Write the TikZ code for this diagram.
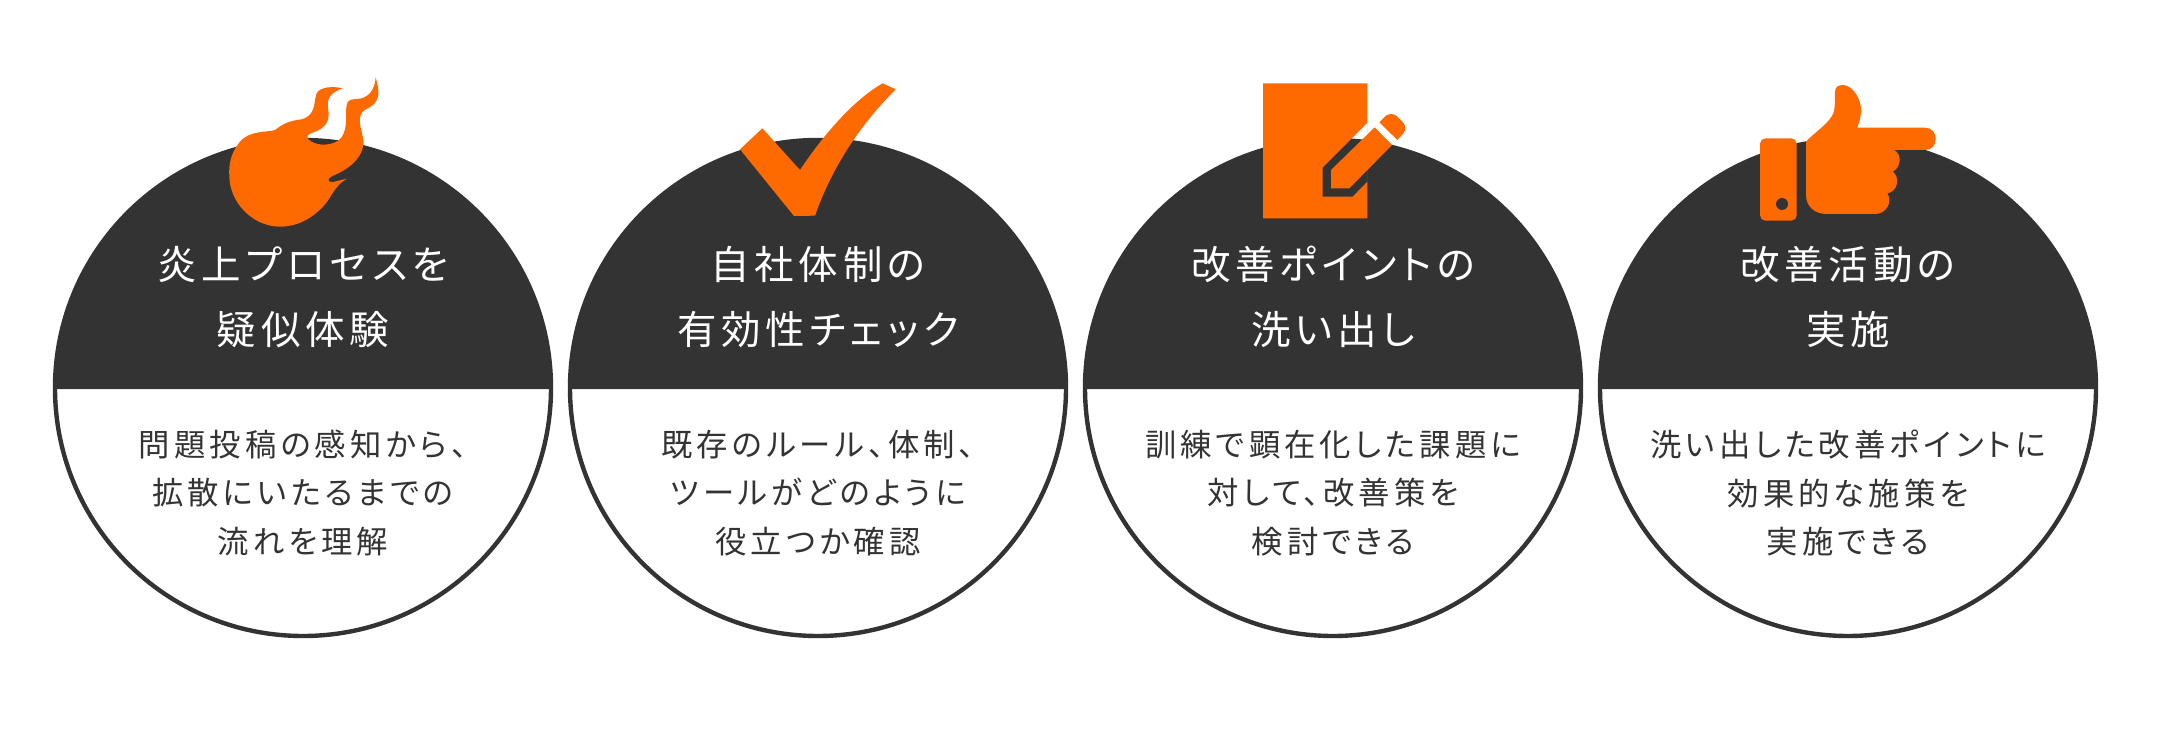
\documentclass[tikz,border=0pt]{standalone}
\usepackage{fontspec}
\newfontfamily\headcjk[LetterSpace=12,RawFeature=+palt]{Noto Sans CJK JP}
\newfontfamily\bodycjk[LetterSpace=13,RawFeature=+palt]{Noto Sans CJK JP}
\definecolor{ringdark}{RGB}{51,51,51}
\definecolor{iconorange}{RGB}{255,106,0}
\tikzset{
  ringline/.style={draw=ringdark,line width=3.3pt,fill=white},
  capfill/.style={fill=ringdark},
  iconfill/.style={fill=iconorange,draw=none},
  headtext/.style={text=white,align=center,inner sep=0.75pt,font=\headcjk\fontsize{29.6}{48.5}\selectfont},
  bodytext/.style={text=ringdark,align=center,inner sep=0.75pt,font=\bodycjk\fontsize{23.5}{36.4}\selectfont}
}

\begin{document}
\begin{tikzpicture}[x=0.75pt,y=0.75pt,yscale=-1,xscale=1]
\useasboundingbox (0,0) rectangle (2160,738);

%Shape: Circle
\foreach \cx in {303,818,1333,1848} {
  \draw [ringline] (\cx,388) circle (248);
  \fill [capfill] (\cx-248,389) arc [start angle=180,end angle=360,radius=248] -- cycle;
}

%Shape: Flame
\begin{scope}[shift={(200,60)},scale=1/3]
\fill [iconfill] (428,85) .. controls (400,78) and (360,80) .. (350,100) .. controls (340,125) and (350,165) .. (305,178) .. controls (270,182) and (250,190) .. (225,210) .. controls (200,218) and (150,210) .. (120,245) .. controls (95,275) and (85,310) .. (88,350) .. controls (90,430) and (160,500) .. (240,500) .. controls (310,500) and (360,455) .. (385,420) .. controls (400,395) and (415,370) .. (440,357) .. controls (420,358) and (400,370) .. (388,365) .. controls (378,358) and (395,348) .. (410,342) .. controls (460,320) and (495,280) .. (490,240) .. controls (485,210) and (475,190) .. (482,165) .. controls (490,140) and (525,150) .. (535,105) .. controls (538,90) and (530,65) .. (527,52) .. controls (525,85) and (510,110) .. (480,116) .. controls (455,118) and (442,118) .. (440,135) .. controls (435,165) and (445,200) .. (425,232) .. controls (405,258) and (350,262) .. (325,238) .. controls (318,228) and (325,222) .. (340,217) .. controls (375,205) and (390,185) .. (385,150) .. controls (380,120) and (385,100) .. (428,85) -- cycle ;
\end{scope}

%Shape: Check mark
\begin{scope}[shift={(720,60)},scale=1/3]
\fill [iconfill] (60,268) -- (127,205) -- (240,330) .. controls (310,225) and (400,120) .. (488,70) -- (527,88) .. controls (430,185) and (340,310) .. (285,467) -- (222,468) -- cycle ;
\end{scope}

%Shape: Sheet and pencil
\begin{scope}[shift={(1240,70)},scale=1/3]
\fill [iconfill,even odd rule] (69,40) rectangle (382,445) (248,292) -- (382,158) -- (382,335) -- (338,380) -- (248,380) -- cycle ;
\fill [iconfill] (273,300) -- (404,172) -- (456,225) -- (328,355) -- (273,355) -- cycle ;
\fill [iconfill] (418,157) -- (438,137) .. controls (448,130) and (462,130) .. (472,140) -- (488,156) .. controls (498,166) and (498,180) .. (490,190) -- (472,210) -- cycle ;
\end{scope}

%Shape: Pointing hand
\begin{scope}[shift={(1740,70)},scale=1/3]
\fill [iconfill,rounded corners=4pt] (60,205) rectangle (170,452) ;
\fill [ringdark] (126,402) circle (18);
\fill [iconfill] (198,215) .. controls (225,185) and (270,160) .. (282,125) .. controls (286,105) and (284,80) .. (285,65) .. controls (286,50) and (295,45) .. (310,45) .. controls (340,47) and (365,90) .. (363,125) .. controls (362,145) and (356,160) .. (352,173) -- (555,173) .. controls (575,173) and (587,188) .. (587,207) .. controls (587,226) and (575,240) .. (555,240) -- (462,240) .. controls (485,250) and (485,292) .. (458,305) .. controls (480,320) and (475,365) .. (442,370) .. controls (458,395) and (440,432) .. (405,432) -- (260,432) .. controls (225,432) and (198,410) .. (198,375) -- cycle ;
\end{scope}

% Text Node
\node [headtext] (headfire) at (303,297) {炎上プロセスを\\疑似体験};
% Text Node
\node [headtext] (headcheck) at (818,297) {自社体制の\\有効性チェック};
% Text Node
\node [headtext] (headnote) at (1333,297) {改善ポイントの\\洗い出し};
% Text Node
\node [headtext] (headhand) at (1848,297) {改善活動の\\実施};
% Text Node
\node [bodytext] (bodyfire) at (303,493) {問題投稿の感知から、\\拡散にいたるまでの\\流れを理解};
% Text Node
\node [bodytext] (bodycheck) at (818,493) {既存のルール、体制、\\ツールがどのように\\役立つか確認};
% Text Node
\node [bodytext] (bodynote) at (1333,493) {訓練で顕在化した課題に\\対して、改善策を\\検討できる};
% Text Node
\node [bodytext] (bodyhand) at (1848,493) {洗い出した改善ポイントに\\効果的な施策を\\実施できる};

\end{tikzpicture}
\end{document}
